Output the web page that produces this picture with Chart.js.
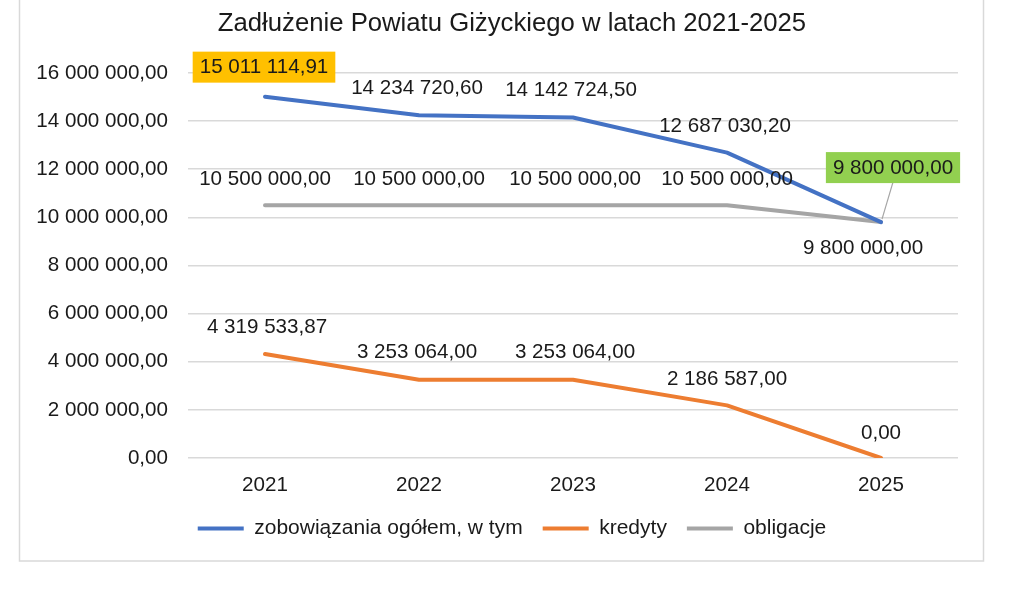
<!DOCTYPE html>
<html>
<head>
<meta charset="utf-8">
<script src="https://cdn.jsdelivr.net/npm/chart.js@4"></script>
<style>
html,body{margin:0;padding:0;background:#fff;}
#wrap{position:relative;width:1024px;height:603px;}
</style>
</head>
<body>
<div id="wrap"><canvas id="c" width="1024" height="603"></canvas></div>
<script>
const titleText = 'Zadłużenie Powiatu Giżyckiego w latach 2021-2025';
const years = ['2021', '2022', '2023', '2024', '2025'];
const seriesNames = ['zobowiązania ogółem, w tym', 'kredyty', 'obligacje'];
const totalDebt = [15011114.91, 14234720.60, 14142724.50, 12687030.20, 9800000.00];
const loans = [4319533.87, 3253064.00, 3253064.00, 2186587.00, 0.00];
const bonds = [10500000.00, 10500000.00, 10500000.00, 10500000.00, 9800000.00];
const yMin = 0, yMax = 16000000, yStep = 2000000;

const colors = ['#4472C4', '#ED7D31', '#A5A5A5'];
const FONT = 'Liberation Sans, Arial, sans-serif';
const TXT = '#1a1a1a';
const FS = 20.6;

function fmtPL(v) {
  const parts = Math.abs(v).toFixed(2).split('.');
  const intPart = parts[0].replace(/\B(?=(\d{3})+(?!\d))/g, ' ');
  return (v < 0 ? '-' : '') + intPart + ',' + parts[1];
}

// label placement relative to its point, optional box colour, optional leader line
const labelCfg = [
  [
    {dx: -1, dy: -30, box: '#FFC000'},
    {dx: -2, dy: -28},
    {dx: -2, dy: -28},
    {dx: -2, dy: -27},
    {dx: 12, dy: -55, box: '#92D050', leader: true}
  ],
  [
    {dx: 2, dy: -28}, {dx: -2, dy: -28}, {dx: 2, dy: -28}, {dx: 0, dy: -27}, {dx: 0, dy: -26}
  ],
  [
    {dx: 0, dy: -27}, {dx: 0, dy: -27}, {dx: 2, dy: -27}, {dx: 0, dy: -27}, {dx: -18, dy: 25}
  ]
];

const bgBorder = {
  id: 'bgBorder',
  beforeDraw(chart) {
    const ctx = chart.ctx;
    ctx.save();
    ctx.fillStyle = '#fff';
    ctx.fillRect(0, 0, chart.width, chart.height);
    ctx.strokeStyle = '#d9d9d9';
    ctx.lineWidth = 1.5;
    ctx.strokeRect(19.5, -5, 964, 566);
    ctx.restore();
  }
};

const dataLabels = {
  id: 'dataLabels',
  afterDatasetsDraw(chart) {
    const ctx = chart.ctx;
    ctx.save();
    ctx.font = FS + 'px ' + FONT;
    ctx.textAlign = 'center';
    ctx.textBaseline = 'middle';
    chart.data.datasets.forEach((ds, di) => {
      const meta = chart.getDatasetMeta(di);
      meta.data.forEach((pt, i) => {
        const cfg = labelCfg[di][i];
        const txt = fmtPL(ds.data[i]);
        const x = pt.x + cfg.dx, y = pt.y + cfg.dy;
        const w = ctx.measureText(txt).width;
        if (cfg.leader) {
          ctx.strokeStyle = '#A5A5A5';
          ctx.lineWidth = 1.2;
          ctx.beginPath();
          ctx.moveTo(x, y + 15);
          ctx.lineTo(pt.x + 1, pt.y - 3);
          ctx.stroke();
        }
        if (cfg.box) {
          ctx.fillStyle = cfg.box;
          ctx.fillRect(x - w / 2 - 7, y - 15, w + 14, 31);
        }
        ctx.fillStyle = TXT;
        ctx.fillText(txt, x, y + 1);
      });
    });
    ctx.restore();
  }
};

const datasets = [totalDebt, loans, bonds].map((arr, i) => ({
  label: seriesNames[i],
  data: arr,
  borderColor: colors[i],
  backgroundColor: colors[i],
  borderWidth: 4,
  pointRadius: 0,
  pointHoverRadius: 0,
  borderJoinStyle: 'round',
  borderCapStyle: 'round',
  tension: 0,
  pointStyle: 'line',
  yAxisID: 'y'
}));

new Chart(document.getElementById('c'), {
  type: 'line',
  data: {labels: years, datasets: datasets},
  plugins: [bgBorder, dataLabels],
  options: {
    responsive: false,
    animation: false,
    events: [],
    layout: {padding: {left: 20, right: 20, top: 0, bottom: 54}},
    plugins: {
      title: {
        display: true,
        text: titleText,
        color: TXT,
        font: {family: FONT, size: 25.7, weight: 'normal'},
        padding: {top: 8, bottom: 34}
      },
      legend: {
        display: true,
        position: 'bottom',
        labels: {
          usePointStyle: true,
          pointStyleWidth: 46,
          padding: 20,
          color: TXT,
          font: {family: FONT, size: 21}
        }
      },
      tooltip: {enabled: false}
    },
    scales: {
      x: {
        offset: true,
        grid: {display: false, drawTicks: false},
        border: {display: false},
        ticks: {color: TXT, font: {family: FONT, size: FS}, padding: 15},
        afterFit(scale) { scale.height = 40; }
      },
      y: {
        min: yMin,
        max: yMax,
        grid: {color: '#d9d9d9', lineWidth: 1.5, drawTicks: false},
        border: {display: false},
        ticks: {
          stepSize: yStep,
          color: TXT,
          font: {family: FONT, size: FS},
          padding: 20,
          callback: v => fmtPL(v)
        },
        afterFit(scale) { scale.width = 168; }
      },
      yRightSpace: {
        position: 'right',
        display: true,
        min: yMin,
        max: yMax,
        grid: {display: false, drawTicks: false},
        border: {display: false},
        ticks: {display: false},
        afterFit(scale) { scale.width = 46; }
      }
    }
  }
});
</script>
</body>
</html>
